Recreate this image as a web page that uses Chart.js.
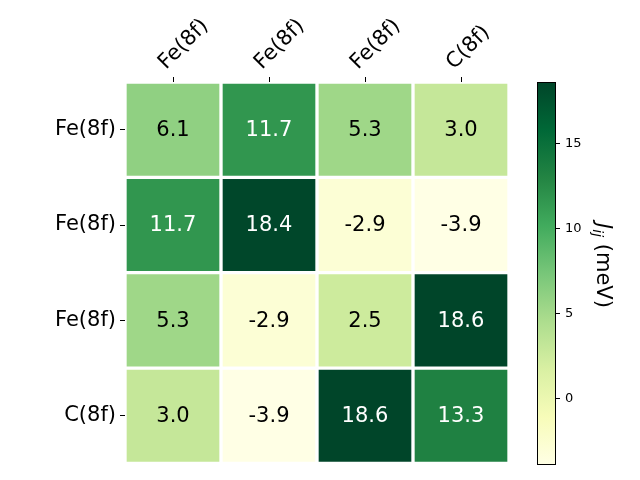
<!DOCTYPE html>
<html>
<head>
<meta charset="utf-8">
<script src="https://cdn.jsdelivr.net/npm/chart.js@4.4.1/dist/chart.umd.min.js"></script>
<style>
  html, body { margin: 0; padding: 0; background: #fff; }
  #wrap { position: relative; width: 640px; height: 480px; }
  #wrap canvas { position: absolute; left: 0; top: 0; }
</style>
</head>
<body>
<div id="wrap">
  <canvas id="main" width="640" height="480"></canvas>
  <canvas id="cbar" width="640" height="480"></canvas>
</div>
<script>
// ---- data ----
const colLabels = ['Fe(8f)', 'Fe(8f)', 'Fe(8f)', 'C(8f)'];
const rowLabels = ['Fe(8f)', 'Fe(8f)', 'Fe(8f)', 'C(8f)'];
const row0 = [6.1, 11.7, 5.3, 3.0];
const row1 = [11.7, 18.4, -2.9, -3.9];
const row2 = [5.3, -2.9, 2.5, 18.6];
const row3 = [3.0, -3.9, 18.6, 13.3];
const rows = [row0, row1, row2, row3];
const vMin = -3.9;
const vMax = 18.6;
const cbarTicks = [0, 5, 10, 15];
const cbarTitle = ['J', 'ij', ' (meV)'];

// ---- colormap (YlGn) ----
const ylgn = ['#ffffe5', '#f7fcb9', '#d9f0a3', '#addd8e', '#78c679', '#41ab5d', '#238443', '#006837', '#004529'];
function hexToRgb(h) { return [parseInt(h.slice(1,3),16), parseInt(h.slice(3,5),16), parseInt(h.slice(5,7),16)]; }
const ylgnRgb = ylgn.map(hexToRgb);
function cmap(v) {
  let t = (v - vMin) / (vMax - vMin);
  t = Math.max(0, Math.min(1, t));
  const pos = t * (ylgnRgb.length - 1);
  const i = Math.min(Math.floor(pos), ylgnRgb.length - 2);
  const f = pos - i;
  const a = ylgnRgb[i], b = ylgnRgb[i + 1];
  const c = a.map((x, k) => Math.round(x + (b[k] - x) * f));
  return `rgb(${c[0]},${c[1]},${c[2]})`;
}

const FONT = "'DejaVu Sans', sans-serif";
const nRows = rows.length;

// one dataset per row; each cell is a floating bar spanning its row band
const datasets = rows.map((vals, r) => {
  const yTop = nRows - r;
  return {
    label: rowLabels[r],
    data: vals.map(() => [yTop - 1, yTop]),
    values: vals,
    backgroundColor: vals.map(cmap),
    borderColor: '#ffffff',
    borderWidth: 2,
    borderSkipped: false,
    barPercentage: 1.0,
    categoryPercentage: 1.0,
    grouped: false
  };
});

const cellText = {
  id: 'cellText',
  afterDatasetsDraw(chart) {
    const ctx = chart.ctx;
    ctx.save();
    ctx.font = `21px ${FONT}`;
    ctx.textAlign = 'center';
    ctx.textBaseline = 'middle';
    chart.data.datasets.forEach((ds, di) => {
      const meta = chart.getDatasetMeta(di);
      meta.data.forEach((el, i) => {
        const v = ds.values[i];
        const t = (v - vMin) / (vMax - vMin);
        ctx.fillStyle = t > 0.5 ? '#ffffff' : '#000000';
        const cy = (el.y + el.base) / 2;
        ctx.fillText(v.toFixed(1), el.x, cy + 1);
      });
    });
    ctx.restore();
  }
};

new Chart(document.getElementById('main'), {
  type: 'bar',
  data: { labels: colLabels, datasets },
  options: {
    responsive: false,
    animation: false,
    devicePixelRatio: 1,
    layout: { padding: { left: 0, right: 131, top: 0, bottom: 15 } },
    plugins: { legend: { display: false }, tooltip: { enabled: false } },
    scales: {
      x: {
        position: 'top',
        offset: true,
        afterFit(axis) { axis.height = 82; },
        grid: { drawOnChartArea: false, drawTicks: true, tickLength: 5, tickColor: '#000', tickWidth: 1, offset: false },
        border: { display: false },
        ticks: { color: '#000', font: { family: FONT, size: 21 }, minRotation: 45, maxRotation: 45, padding: 2, labelOffset: 7 }
      },
      y: {
        type: 'linear',
        min: 0,
        max: nRows,
        afterFit(axis) { axis.width = 125; },
        afterBuildTicks(axis) { axis.ticks = rowLabels.map((_, r) => ({ value: nRows - r - 0.5 })); },
        grid: { drawOnChartArea: false, drawTicks: true, tickLength: 5, tickColor: '#000', tickWidth: 1 },
        border: { display: false },
        ticks: {
          color: '#000',
          font: { family: FONT, size: 21 },
          padding: 4,
          callback(value) { return rowLabels[Math.round(nRows - 0.5 - value)]; }
        }
      }
    }
  },
  plugins: [cellText]
});

// ---- colorbar ----
const cbTitlePlugin = {
  id: 'cbTitle',
  afterDraw(chart) {
    const ctx = chart.ctx;
    const area = chart.chartArea;
    ctx.save();
    // frame
    ctx.strokeStyle = '#000';
    ctx.lineWidth = 1;
    ctx.strokeRect(area.left + 0.5, area.top + 0.5, area.right - area.left - 1, area.bottom - area.top - 1);
    // title
    const cy = (area.top + area.bottom) / 2 - 8;
    const cx = 604;
    ctx.translate(cx, cy);
    ctx.rotate(Math.PI / 2);
    ctx.fillStyle = '#000';
    ctx.textBaseline = 'alphabetic';
    const fMain = `italic 21px ${FONT}`;
    const fSub = `italic 14px ${FONT}`;
    const fNorm = `21px ${FONT}`;
    ctx.font = fMain; const w0 = ctx.measureText(cbarTitle[0]).width;
    ctx.font = fSub; const w1 = ctx.measureText(cbarTitle[1]).width;
    ctx.font = fNorm; const w2 = ctx.measureText(cbarTitle[2]).width;
    let x = -(w0 + w1 + w2) / 2;
    const base = 7;
    ctx.font = fMain; ctx.fillText(cbarTitle[0], x, base); x += w0;
    ctx.font = fSub; ctx.fillText(cbarTitle[1], x, base + 4); x += w1;
    ctx.font = fNorm; ctx.fillText(cbarTitle[2], x, base);
    ctx.restore();
  }
};

new Chart(document.getElementById('cbar'), {
  type: 'bar',
  data: {
    labels: [''],
    datasets: [{
      data: [[vMin, vMax]],
      backgroundColor(c) {
        const area = c.chart.chartArea;
        if (!area) return ylgn[4];
        const g = c.chart.ctx.createLinearGradient(0, area.bottom, 0, area.top);
        ylgn.forEach((col, i) => g.addColorStop(i / (ylgn.length - 1), col));
        return g;
      },
      borderWidth: 0,
      barPercentage: 1.0,
      categoryPercentage: 1.0
    }]
  },
  options: {
    responsive: false,
    animation: false,
    devicePixelRatio: 1,
    layout: { padding: { left: 537, right: 0, top: 82, bottom: 15 } },
    plugins: { legend: { display: false }, tooltip: { enabled: false } },
    scales: {
      x: { display: false },
      y: {
        position: 'right',
        min: vMin,
        max: vMax,
        afterFit(axis) { axis.width = 640 - 556; },
        afterBuildTicks(axis) { axis.ticks = cbarTicks.map(v => ({ value: v })); },
        grid: { drawOnChartArea: false, drawTicks: true, tickLength: 4, tickColor: '#000', tickWidth: 1 },
        border: { display: false },
        ticks: { color: '#000', font: { family: FONT, size: 13 }, padding: 5 }
      }
    }
  },
  plugins: [cbTitlePlugin]
});
</script>
</body>
</html>
